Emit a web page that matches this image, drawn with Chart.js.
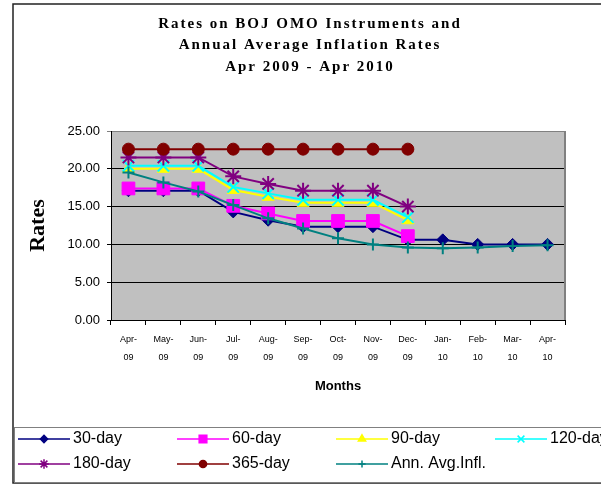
<!DOCTYPE html>
<html>
<head>
<meta charset="utf-8">
<script src="https://cdn.jsdelivr.net/npm/chart.js@4/dist/chart.umd.min.js"></script>
<style>
  body { margin: 0; background: #fff; }
  canvas { display: block; }
</style>
</head>
<body>
<canvas id="omoChart" width="601" height="484"></canvas>
<script>
// months on the x axis
const months = ["Apr-09", "May-09", "Jun-09", "Jul-09", "Aug-09", "Sep-09", "Oct-09",
  "Nov-09", "Dec-09", "Jan-10", "Feb-10", "Mar-10", "Apr-10"];

// rates (%)
const day30 = [17.1, 17.1, 17.1, 14.3, 13.2, 12.35, 12.35, 12.35, 10.6, 10.6, 10.0, 10.0, 10.0];
const day60 = [17.4, 17.4, 17.4, 15.1, 14.1, 13.1, 13.1, 13.1, 11.1, null, null, null, null];
const day90 = [20.0, 20.0, 20.0, 17.2, 16.3, 15.5, 15.5, 15.5, 13.2, null, null, null, null];
const day120 = [20.4, 20.4, 20.4, 17.6, 16.75, 15.9, 15.9, 15.9, 13.6, null, null, null, null];
const day180 = [21.5, 21.5, 21.5, 19.0, 18.0, 17.1, 17.1, 17.1, 15.0, null, null, null, null];
const day365 = [22.6, 22.6, 22.6, 22.6, 22.6, 22.6, 22.6, 22.6, 22.6, null, null, null, null];
const annAvgInfl = [19.5, 18.2, 17.0, 15.2, 13.45, 12.1, 10.8, 10.0, 9.6, 9.5, 9.6, 9.8, 9.9];

const titleLines = ["Rates on BOJ OMO Instruments and", "Annual Average Inflation Rates", "Apr 2009 - Apr 2010"];
const yTicks = [0, 5, 10, 15, 20, 25];

const SANS = "'Liberation Sans', Arial, sans-serif";
const SERIF = "'Liberation Serif', 'Times New Roman', serif";

function series(label, data, color, style, radius, i) {
  const open = style === "cross" || style === "crossRot" || style === "star";
  return {
    label: label,
    data: data,
    borderColor: color,
    backgroundColor: color,
    borderWidth: 2,
    pointStyle: style,
    pointRadius: radius,
    pointBackgroundColor: color,
    pointBorderColor: color,
    pointBorderWidth: open ? 2 : 1,
    tension: 0,
    spanGaps: false,
    order: -i // later series on top, like the original
  };
}

// white page, outer frame, grey plot area, title and legend
const backdrop = {
  id: "backdrop",
  beforeDraw(chart) {
    const ctx = chart.ctx;
    const a = chart.chartArea;
    ctx.save();
    ctx.fillStyle = "#fff";
    ctx.fillRect(0, 0, chart.width, chart.height);
    ctx.fillStyle = "#c0c0c0";
    ctx.fillRect(a.left, a.top, a.right - a.left, a.bottom - a.top);
    ctx.restore();
  },
  afterDraw(chart) {
    const ctx = chart.ctx;
    const a = chart.chartArea;
    ctx.save();
    // plot border on the right
    ctx.strokeStyle = "#808080";
    ctx.lineWidth = 2;
    ctx.beginPath();
    ctx.moveTo(a.right, a.top);
    ctx.lineTo(a.right, a.bottom);
    ctx.stroke();

    // outer frame (runs off the right edge)
    ctx.strokeStyle = "#222";
    ctx.lineWidth = 1.5;
    ctx.strokeRect(13, 4, 640, 479);

    // legend box
    ctx.strokeStyle = "#808080";
    ctx.lineWidth = 1;
    ctx.strokeRect(14.5, 427.5, 640, 55);

    // title, letter spaced
    ctx.fillStyle = "#000";
    ctx.font = "bold 15px " + SERIF;
    ctx.textAlign = "center";
    ctx.textBaseline = "middle";
    if ("letterSpacing" in ctx) ctx.letterSpacing = "2px";
    titleLines.forEach((t, k) => ctx.fillText(t, 310, 24 + k * 21.5));
    if ("letterSpacing" in ctx) ctx.letterSpacing = "0px";

    // legend, 4 columns
    const drawPoint = Chart.helpers && Chart.helpers.drawPoint;
    chart.data.datasets.forEach((ds, i) => {
      const x0 = 18 + (i % 4) * 159;
      const y = 439 + Math.floor(i / 4) * 25;
      ctx.strokeStyle = ds.borderColor;
      ctx.fillStyle = ds.backgroundColor;
      ctx.lineWidth = 1.5;
      ctx.beginPath();
      ctx.moveTo(x0, y);
      ctx.lineTo(x0 + 52, y);
      ctx.stroke();
      if (drawPoint) {
        drawPoint(ctx, {
          pointStyle: ds.pointStyle,
          radius: ds.pointRadius * 0.6,
          rotation: 0,
          borderWidth: ds.pointBorderWidth
        }, x0 + 26, y);
      }
      ctx.fillStyle = "#000";
      ctx.font = "16px " + SANS;
      ctx.textAlign = "left";
      ctx.textBaseline = "middle";
      ctx.fillText(ds.label, x0 + 55, y);
    });
    ctx.restore();
  }
};

new Chart(document.getElementById("omoChart"), {
  type: "line",
  data: {
    labels: months,
    datasets: [
      series("30-day", day30, "#000080", "rectRot", 6, 0),
      series("60-day", day60, "#ff00ff", "rect", 9, 1),
      series("90-day", day90, "#ffff00", "triangle", 7, 2),
      series("120-day", day120, "#00ffff", "crossRot", 8, 3),
      series("180-day", day180, "#800080", "star", 8, 4),
      series("365-day", day365, "#800000", "circle", 6, 5),
      series("Ann. Avg.Infl.", annAvgInfl, "#008080", "cross", 6, 6)
    ]
  },
  options: {
    responsive: false,
    animation: false,
    devicePixelRatio: 1,
    layout: { padding: { top: 131, right: 36, bottom: 57, left: 0 } },
    plugins: {
      legend: { display: false },
      title: { display: false },
      tooltip: { enabled: false }
    },
    scales: {
      x: {
        type: "category",
        offset: true,
        grid: { offset: true, drawOnChartArea: false, drawTicks: true, tickLength: 5, color: "#000" },
        border: { color: "#000", width: 1 },
        ticks: {
          autoSkip: false,
          maxRotation: 0,
          padding: 6,
          color: "#000",
          font: { family: SANS, size: 9, lineHeight: 2 },
          callback: function (v) {
            const parts = this.getLabelForValue(v).split("-");
            return [parts[0] + "-", parts[1]];
          }
        },
        title: {
          display: true,
          text: "Months",
          color: "#000",
          font: { family: SANS, size: 13, weight: "bold" },
          padding: { top: 0, bottom: 33 }
        },
        afterFit: s => { s.height = 107; }
      },
      y: {
        min: 0,
        max: 25,
        afterBuildTicks: s => { s.ticks = yTicks.map(v => ({ value: v })); },
        grid: {
          color: c => (c.tick && c.tick.value === 25 ? "#808080" : "#000"),
          tickLength: 4
        },
        border: { color: "#000", width: 1 },
        ticks: {
          padding: 7,
          color: "#000",
          font: { family: SANS, size: 13 },
          callback: v => Number(v).toFixed(2)
        },
        title: {
          display: true,
          text: "Rates",
          color: "#000",
          font: { family: SERIF, size: 22, weight: "bold" },
          padding: { top: 25, bottom: 0 }
        },
        afterFit: s => { s.width = 111; }
      }
    }
  },
  plugins: [backdrop]
});
</script>
</body>
</html>
